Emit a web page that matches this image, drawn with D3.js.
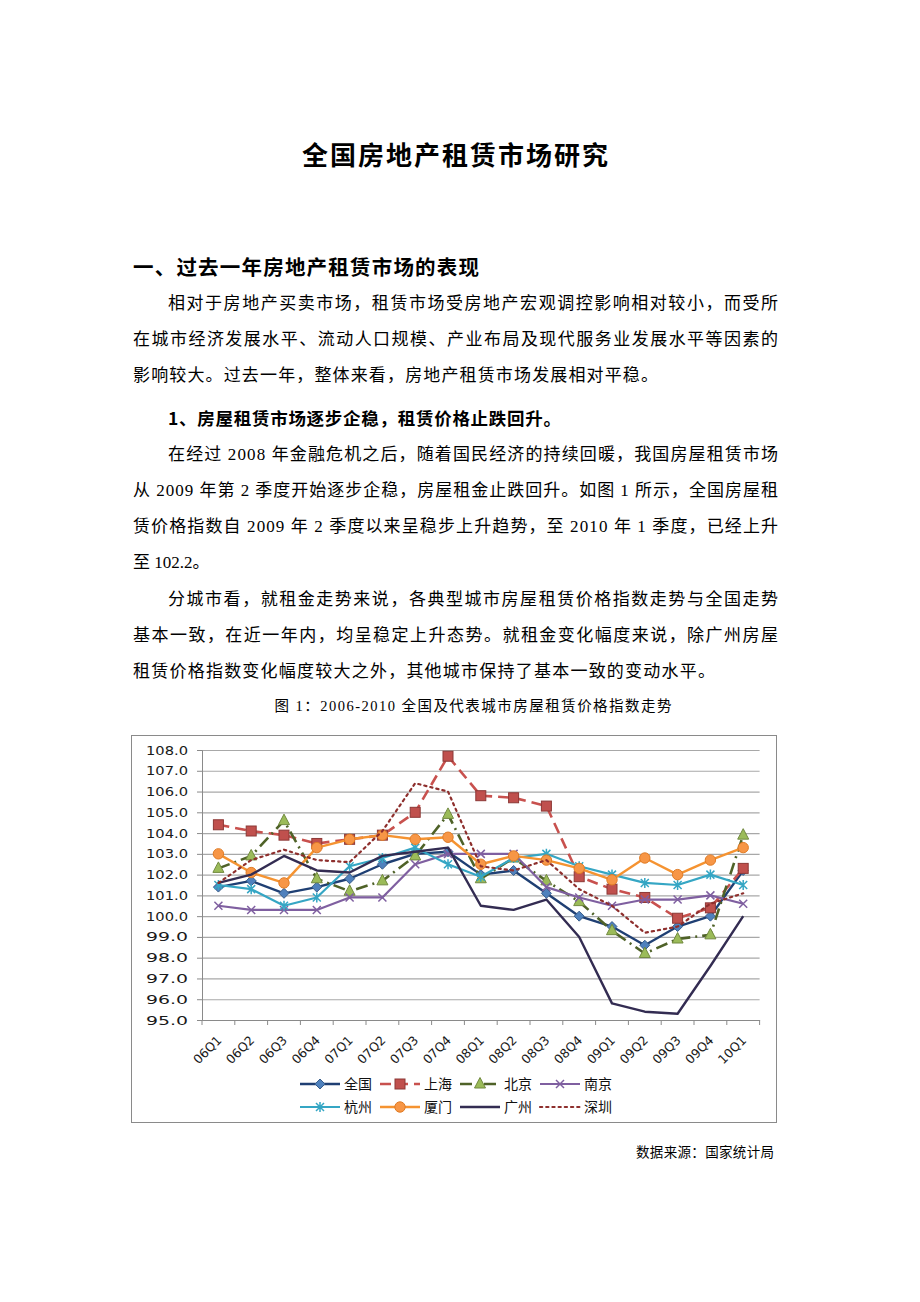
<!DOCTYPE html>
<html>
<head>
<meta charset="utf-8">
<script src="https://cdn.jsdelivr.net/npm/d3@7/dist/d3.min.js"></script>
<style>
html,body{margin:0;padding:0;background:#fff;}
svg{display:block;}
</style>
</head>
<body>
<svg id="page" width="920" height="1302"></svg>
<script>
// ---------- DATA ----------
const categories = ["06Q1","06Q2","06Q3","06Q4","07Q1","07Q2","07Q3","07Q4","08Q1","08Q2","08Q3","08Q4","09Q1","09Q2","09Q3","09Q4","10Q1"];
const yTicks = [95,96,97,98,99,100,101,102,103,104,105,106,107,108];
const seriesNames = ["全国","上海","北京","南京","杭州","厦门","广州","深圳"];
const quanguo  = [101.4,101.7,101.1,101.4,101.8,102.5,103.0,103.1,102.0,102.2,101.1,100.0,99.5,98.6,99.5,100.0,102.2];
const shanghai = [104.4,104.1,103.9,103.5,103.7,103.9,105.0,107.7,105.8,105.7,105.3,101.9,101.3,100.9,99.9,100.4,102.3];
const beijing  = [102.3,102.9,104.6,101.8,101.2,101.7,102.9,104.9,101.8,102.8,101.7,100.7,99.3,98.2,98.9,99.1,103.9];
const nanjing  = [100.5,100.3,100.3,100.3,100.9,100.9,102.5,103.0,103.0,103.0,101.4,100.9,100.5,100.8,100.8,101.0,100.6];
const hangzhou = [101.5,101.3,100.5,100.9,102.4,102.8,103.3,102.5,101.9,102.8,103.0,102.4,102.0,101.6,101.5,102.0,101.5];
const xiamen   = [103.0,102.1,101.6,103.3,103.7,103.9,103.7,103.8,102.5,102.9,102.7,102.3,101.75,102.8,102.0,102.7,103.3];
const guangzhou= [101.6,102.0,102.9,102.2,102.1,102.9,103.1,103.3,100.5,100.3,100.8,99.0,95.8,95.4,95.3,97.6,100.0];
const shenzhen = [101.6,102.7,103.2,102.7,102.6,104.1,106.4,106.0,102.4,102.2,102.7,101.3,100.5,99.2,99.5,100.6,101.1];
const seriesValues = [quanguo, shanghai, beijing, nanjing, hangzhou, xiamen, guangzhou, shenzhen];

// ---------- STYLES ----------
const styles = [
  {line:"#1f3f73", dash:null,        marker:"diamond",  fill:"#4f81bd", stroke:"#385d8a", lw:2.4},
  {line:"#c8514e", dash:"11,6",      marker:"square",   fill:"#c0504d", stroke:"#8c3836", lw:2.6},
  {line:"#4f6228", dash:"12,5,2,5",  marker:"triangle", fill:"#9bbb59", stroke:"#71893f", lw:2.6},
  {line:"#7f5fa0", dash:null,        marker:"x",        fill:"none",    stroke:"#7f5fa0", lw:2.2},
  {line:"#35a6c4", dash:null,        marker:"star",     fill:"none",    stroke:"#35a6c4", lw:2.2},
  {line:"#f59331", dash:null,        marker:"circle",   fill:"#f79646", stroke:"#e07b24", lw:2.4},
  {line:"#332c52", dash:null,        marker:null,       fill:"none",    stroke:"none",    lw:2.4},
  {line:"#8e2f2d", dash:"2.2,4",     marker:null,       fill:"none",    stroke:"none",    lw:2.2}
];

const svg = d3.select("#page");
svg.append("rect").attr("width",920).attr("height",1302).attr("fill","#fff");

// ---------- PAGE TEXT ----------
const CJK = "'Noto Sans CJK SC', sans-serif";
const BODY = "'Liberation Serif', 'Noto Sans CJK SC', serif";
const textLines = [
  {t:"全国房地产租赁市场研究", x:455, y:165, size:26, w:"bold", anchor:"middle", len:306, font:CJK},
  {t:"一、过去一年房地产租赁市场的表现", x:133, y:275, size:20.5, w:"bold", len:346, font:CJK},
  {t:"相对于房地产买卖市场，租赁市场受房地产宏观调控影响相对较小，而受所", x:168, y:309, size:17, len:610},
  {t:"在城市经济发展水平、流动人口规模、产业布局及现代服务业发展水平等因素的", x:133, y:345, size:17, len:645},
  {t:"影响较大。过去一年，整体来看，房地产租赁市场发展相对平稳。", x:133, y:381, size:17, len:525},
  {t:"1、房屋租赁市场逐步企稳，租赁价格止跌回升。", x:168, y:425, size:17.5, w:"bold", len:393, font:CJK},
  {t:"在经过 2008 年金融危机之后，随着国民经济的持续回暖，我国房屋租赁市场", x:168, y:460, size:17, len:610},
  {t:"从 2009 年第 2 季度开始逐步企稳，房屋租金止跌回升。如图 1 所示，全国房屋租", x:133, y:496, size:17, len:645},
  {t:"赁价格指数自 2009 年 2 季度以来呈稳步上升趋势，至 2010 年 1 季度，已经上升", x:133, y:532, size:17, len:645},
  {t:"至 102.2。", x:133, y:568, size:17},
  {t:"分城市看，就租金走势来说，各典型城市房屋租赁价格指数走势与全国走势", x:168, y:605, size:17, len:610},
  {t:"基本一致，在近一年内，均呈稳定上升态势。就租金变化幅度来说，除广州房屋", x:133, y:641, size:17, len:645},
  {t:"租赁价格指数变化幅度较大之外，其他城市保持了基本一致的变动水平。", x:133, y:677, size:17, len:582},
  {t:"图 1：2006-2010 全国及代表城市房屋租赁价格指数走势", x:473, y:711, size:14.5, anchor:"middle", len:397},
  {t:"数据来源：国家统计局", x:774, y:1157, size:13.5, anchor:"end", len:138}
];
textLines.forEach(d=>{
  const t = svg.append("text").attr("x",d.x).attr("y",d.y)
    .attr("font-family", d.font||BODY)
    .attr("font-size", d.size)
    .attr("font-weight", d.w||"normal")
    .attr("text-anchor", d.anchor||"start")
    .attr("fill","#000")
    .text(d.t);
  if(d.len) t.attr("textLength", d.len).attr("lengthAdjust","spacing");
});

// ---------- CHART ----------
svg.append("rect").attr("x",131.5).attr("y",735.5).attr("width",645).attr("height",387)
  .attr("fill","#fff").attr("stroke","#8a8a8a").attr("stroke-width",1);

const x = d3.scaleBand().domain(categories).range([202, 759.6]).padding(0);
const y = d3.scaleLinear().domain([95,108]).range([1020, 750]);
const cx = c => x(c) + x.bandwidth()/2;
const AXF = "'DejaVu Sans', Verdana, sans-serif";

// grid
const grid = svg.append("g").attr("transform","translate(202,0)")
  .call(d3.axisLeft(y).tickValues(yTicks).tickSize(-(759.6-202)).tickFormat(""));
grid.select(".domain").remove();
grid.selectAll("line").attr("stroke","#a8a8a8").attr("stroke-width",1.2);

// y axis
const yAx = svg.append("g").attr("transform","translate(202,0)")
  .call(d3.axisLeft(y).tickValues(yTicks).tickSize(5).tickPadding(9).tickFormat(d3.format(".1f")));
yAx.select(".domain").attr("stroke","#8a8a8a");
yAx.selectAll("line").attr("stroke","#8a8a8a");
yAx.selectAll("text").attr("font-family",AXF).attr("font-size",12.5).attr("fill","#1a1a1a")
  .attr("textLength",42).attr("lengthAdjust","spacingAndGlyphs");

// x axis (labels)
const xAx = svg.append("g").attr("transform","translate(0,1020)")
  .call(d3.axisBottom(x).tickSize(0).tickPadding(0));
xAx.select(".domain").attr("stroke","#8a8a8a");
xAx.selectAll("text")
  .attr("font-family",AXF).attr("font-size",12.5).attr("fill","#1a1a1a")
  .attr("text-anchor","end").attr("dy",null).attr("y",null)
  .attr("transform","translate(4,21) rotate(-45)");
// boundary tick marks
const bounds = categories.map(c=>x(c)).concat([x(categories[categories.length-1])+x.bandwidth()]);
svg.append("g").selectAll("line").data(bounds).join("line")
  .attr("x1",d=>d).attr("x2",d=>d).attr("y1",1020).attr("y2",1025)
  .attr("stroke","#8a8a8a");

// symbols
function drawMarker(g, type, st, px, py){
  if(type==="diamond"){
    g.append("path").attr("d",`M${px},${py-5}L${px+5},${py}L${px},${py+5}L${px-5},${py}Z`)
      .attr("fill",st.fill).attr("stroke",st.stroke).attr("stroke-width",1);
  } else if(type==="square"){
    g.append("rect").attr("x",px-5).attr("y",py-5).attr("width",10).attr("height",10)
      .attr("fill",st.fill).attr("stroke",st.stroke).attr("stroke-width",1);
  } else if(type==="triangle"){
    g.append("path").attr("d",`M${px},${py-6.5}L${px+5.5},${py+4}L${px-5.5},${py+4}Z`)
      .attr("fill",st.fill).attr("stroke",st.stroke).attr("stroke-width",1);
  } else if(type==="x"){
    g.append("path").attr("d",`M${px-4},${py-4}L${px+4},${py+4}M${px-4},${py+4}L${px+4},${py-4}`)
      .attr("stroke",st.stroke).attr("stroke-width",1.5).attr("fill","none");
  } else if(type==="star"){
    g.append("path").attr("d",`M${px-4},${py-4}L${px+4},${py+4}M${px-4},${py+4}L${px+4},${py-4}M${px},${py-5}L${px},${py+5}`)
      .attr("stroke",st.stroke).attr("stroke-width",1.5).attr("fill","none");
  } else if(type==="circle"){
    g.append("circle").attr("cx",px).attr("cy",py).attr("r",5.2)
      .attr("fill",st.fill).attr("stroke",st.stroke).attr("stroke-width",1);
  }
}

const line = d3.line().x((d,i)=>cx(categories[i])).y(d=>y(d));
const plot = svg.append("g");
seriesValues.forEach((vals,k)=>{
  const st = styles[k];
  const g = plot.append("g");
  g.append("path").datum(vals).attr("d",line)
    .attr("fill","none").attr("stroke",st.line).attr("stroke-width",st.lw)
    .attr("stroke-dasharray",st.dash).attr("stroke-linejoin","round")
    .attr("stroke-linecap", k===7 ? "round" : "butt");
  if(st.marker){
    vals.forEach((v,i)=>drawMarker(g, st.marker, st, cx(categories[i]), y(v)));
  }
});

// legend
const legendPos = [
  {lx:300, ly:1084},{lx:380, ly:1084},{lx:460, ly:1084},{lx:540, ly:1084},
  {lx:300, ly:1107},{lx:380, ly:1107},{lx:460, ly:1107},{lx:540, ly:1107}
];
const lg = svg.append("g");
seriesNames.forEach((name,k)=>{
  const st = styles[k], p = legendPos[k];
  const len = 40;
  lg.append("line").attr("x1",p.lx).attr("x2",p.lx+len).attr("y1",p.ly).attr("y2",p.ly)
    .attr("stroke",st.line).attr("stroke-width",st.lw)
    .attr("stroke-dasharray",st.dash).attr("stroke-linecap", k===7 ? "round":"butt");
  if(st.marker) drawMarker(lg, st.marker, st, p.lx+len/2, p.ly);
  lg.append("text").attr("x",p.lx+len+4).attr("y",p.ly+5)
    .attr("font-family",CJK).attr("font-size",14).attr("fill","#111").text(name);
});
</script>
</body>
</html>
